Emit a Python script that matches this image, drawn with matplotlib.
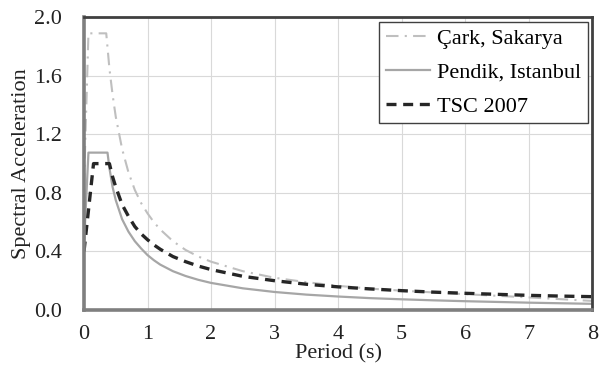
import matplotlib.pyplot as plt

plt.rcParams['font.family'] = ['Liberation Serif', 'DejaVu Serif']

# periods (s) and spectral accelerations
t_cark = [0, 0.07, 0.35, 0.4, 0.45, 0.5, 0.6, 0.7, 0.8, 0.9, 1.0, 1.1, 1.2, 1.4, 1.6,
          1.8, 2.0, 2.5, 3.0, 3.5, 4.0, 4.5, 5.0, 5.5, 6.0, 6.5, 7.0, 7.5, 8.0]
s_cark = [0.85, 1.89, 1.89, 1.65, 1.47, 1.32, 1.10, 0.94, 0.82, 0.73, 0.66, 0.60, 0.55,
          0.47, 0.41, 0.365, 0.33, 0.265, 0.22, 0.19, 0.165, 0.146, 0.132, 0.12, 0.108,
          0.097, 0.086, 0.074, 0.062]

t_pendik = [0, 0.07, 0.37, 0.4, 0.45, 0.5, 0.6, 0.7, 0.8, 0.9, 1.0, 1.1, 1.2, 1.4, 1.6,
            1.8, 2.0, 2.5, 3.0, 3.5, 4.0, 4.5, 5.0, 5.5, 6.0, 6.5, 7.0, 7.5, 8.0]
s_pendik = [0.45, 1.075, 1.075, 0.97, 0.84, 0.75, 0.62, 0.535, 0.47, 0.42, 0.375, 0.34,
            0.31, 0.265, 0.232, 0.206, 0.185, 0.148, 0.123, 0.105, 0.092, 0.081, 0.073,
            0.066, 0.06, 0.055, 0.05, 0.046, 0.042]

t_tsc = [0, 0.15, 0.4, 0.45, 0.5, 0.6, 0.7, 0.8, 0.9, 1.0, 1.1, 1.2, 1.4, 1.6, 1.8,
         2.0, 2.5, 3.0, 3.5, 4.0, 4.5, 5.0, 5.5, 6.0, 6.5, 7.0, 7.5, 8.0]
s_tsc = [0.4, 1.0, 1.0, 0.91, 0.84, 0.72, 0.64, 0.57, 0.52, 0.48, 0.445, 0.415, 0.365,
         0.33, 0.3, 0.276, 0.23, 0.2, 0.176, 0.158, 0.144, 0.132, 0.122, 0.114, 0.107,
         0.1, 0.095, 0.091]

fig = plt.figure(figsize=(6, 3.72), dpi=100)
ax = fig.add_axes([0.14, 0.1667, 0.847, 0.787])

ax.plot(t_cark, s_cark, color='#bfbfbf', lw=1.5, ls=(0, (6, 3, 1, 3)), label='Çark, Sakarya')
ax.plot(t_pendik, s_pendik, color='#a6a6a6', lw=1.6, label='Pendik, Istanbul')
ax.plot(t_tsc, s_tsc, color='#262626', lw=2.4, ls=(0, (3, 2)), label='TSC 2007')

ax.set_xlim(0, 8)
ax.set_ylim(0, 2.0)
ax.set_xticks(range(0, 9))
ax.set_yticks([0.0, 0.4, 0.8, 1.2, 1.6, 2.0])
ax.set_yticklabels(['%.1f' % v for v in [0.0, 0.4, 0.8, 1.2, 1.6, 2.0]])
ax.tick_params(length=0, labelsize=16, colors='#222222')
ax.tick_params(axis='x', pad=11)
ax.tick_params(axis='y', pad=16)
ax.grid(True, color='#d9d9d9', lw=0.8)
ax.set_axisbelow(True)

for s in ['top', 'right']:
    ax.spines[s].set_color('#404040')
    ax.spines[s].set_linewidth(2)
for s in ['left', 'bottom']:
    ax.spines[s].set_color('#7f7f7f')
    ax.spines[s].set_linewidth(2.6)

ax.set_xlabel('Period (s)', fontsize=16, color='#222222')
ax.xaxis.set_label_coords(0.5, -0.116)
ax.set_ylabel('Spectral Acceleration', fontsize=16, color='#222222')
ax.yaxis.set_label_coords(-0.104, 0.5)

leg = ax.legend(loc='upper right', fontsize=16, frameon=True, fancybox=False,
                edgecolor='#404040', framealpha=1, handlelength=2.0, handletextpad=0.3,
                borderaxespad=0.2, labelspacing=0.6, borderpad=0.3)
leg.get_frame().set_linewidth(1.0)

fig.savefig('out.png', dpi=100)
